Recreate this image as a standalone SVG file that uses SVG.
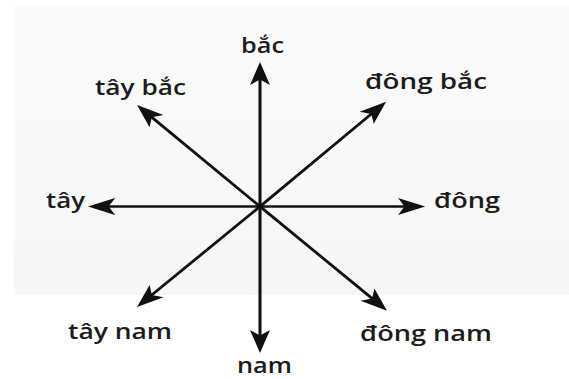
<svg xmlns="http://www.w3.org/2000/svg" width="569" height="379" viewBox="0 0 569 379">
  <defs>
    <linearGradient id="panel" x1="0" y1="0" x2="0" y2="1">
      <stop offset="0" stop-color="#fbfbfb"/>
      <stop offset="1" stop-color="#f6f6f6"/>
    </linearGradient>
    <marker id="head" markerUnits="userSpaceOnUse" markerWidth="26" markerHeight="20" viewBox="0 -10 26 20" refX="12" refY="0" orient="auto">
      <path d="M0,-8.5 L23,0 L0,8.5 L5.5,0 Z" fill="#111"/>
    </marker>
    <style>
      .lbl { font-family: "Open Sans", "Liberation Sans", sans-serif; font-size: 21px; font-weight: 600; fill: #1c1c1c; }
      .arr { stroke: #111; stroke-width: 2.6; fill: none; marker-end: url(#head); }
    </style>
  </defs>
  <rect width="569" height="379" fill="#ffffff"/>
  <rect x="14" y="6" width="555" height="289" fill="url(#panel)"/>

  <g id="connectors" transform="translate(260 206.5) scale(1.18 1)">
    <line class="arr" x1="0" y1="0" x2="0" y2="-133.5"/>
    <line class="arr" x1="0" y1="0" x2="0" y2="135.5"/>
    <line class="arr" x1="0" y1="0" x2="129" y2="0"/>
    <line class="arr" x1="0" y1="0" x2="-134.8" y2="0"/>
    <line class="arr" x1="0" y1="0" x2="99" y2="-97.1"/>
    <line class="arr" x1="0" y1="0" x2="-96.3" y2="-93.8"/>
    <line class="arr" x1="0" y1="0" x2="99.7" y2="96.5"/>
    <line class="arr" x1="0" y1="0" x2="-96.3" y2="92.9"/>
  </g>

  <g id="bac"><text class="lbl" x="241" y="53" textLength="43" lengthAdjust="spacingAndGlyphs">bắc</text></g>
  <g id="tay-bac"><text class="lbl" x="95" y="95" textLength="91" lengthAdjust="spacingAndGlyphs">tây bắc</text></g>
  <g id="dong-bac"><text class="lbl" x="365" y="89" textLength="122" lengthAdjust="spacingAndGlyphs">đông bắc</text></g>
  <g id="tay"><text class="lbl" x="46" y="207.5" textLength="39" lengthAdjust="spacingAndGlyphs">tây</text></g>
  <g id="dong"><text class="lbl" x="434" y="207.5" textLength="66" lengthAdjust="spacingAndGlyphs">đông</text></g>
  <g id="tay-nam"><text class="lbl" x="68" y="338.5" textLength="104" lengthAdjust="spacingAndGlyphs">tây nam</text></g>
  <g id="nam"><text class="lbl" x="237" y="373" textLength="55" lengthAdjust="spacingAndGlyphs">nam</text></g>
  <g id="dong-nam"><text class="lbl" x="360" y="341" textLength="132" lengthAdjust="spacingAndGlyphs">đông nam</text></g>
</svg>
